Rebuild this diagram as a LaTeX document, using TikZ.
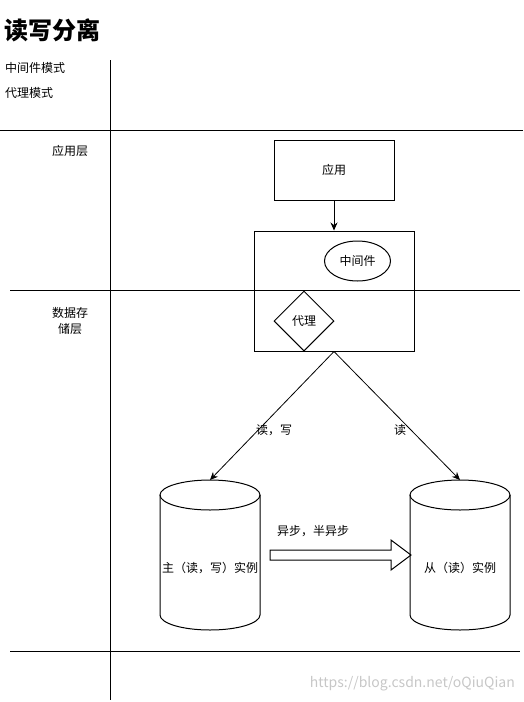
\documentclass[tikz,border=0pt]{standalone}
\usepackage{fontspec}
\setmainfont{Noto Sans CJK SC}
\usetikzlibrary{arrows.meta,shapes.geometric}
\begin{document}
\begin{tikzpicture}[x=1pt,y=-1pt,
  txt/.style={inner sep=0pt,font=\fontsize{12}{15}\selectfont},
  ln/.style={line width=1pt},
  arr/.style={line width=0.8pt,-{Stealth[length=8pt,width=7pt]}},
  cyl/.style={line width=1pt}]
\useasboundingbox (0,0) rectangle (523,702);
% title
\node[anchor=west,inner sep=0pt,font=\fontsize{24}{27}\selectfont\bfseries] (title) at (4,30) {读写分离};
% grid lines
\coordinate (v1) at (110,60); \coordinate (v2) at (110,700);
\coordinate (h1a) at (0,130); \coordinate (h1b) at (523,130);
\coordinate (h2a) at (10,290); \coordinate (h2b) at (520,290);
\coordinate (h3a) at (10,651); \coordinate (h3b) at (520,651);
\draw[ln] (v1) -- (v2);
\draw[ln] (h1a) -- (h1b);
\draw[ln] (h2a) -- (h2b);
\draw[ln] (h3a) -- (h3b);
% left labels
\node[txt,anchor=west] (mw) at (5,68) {中间件模式};
\node[txt,anchor=west] (px) at (5,93) {代理模式};
\node[txt] (applayer) at (70,151) {应用层};
\node[txt,align=center,font=\fontsize{12}{16}\selectfont] (datalayer) at (70,321) {数据存\\储层};
% boxes
\node[draw,line width=1pt,minimum width=120pt,minimum height=60pt,txt] (app) at (334,170) {应用};
\node[draw,line width=1pt,minimum width=160pt,minimum height=120pt,inner sep=0pt] (big) at (334,291) {};
\node[draw,line width=1pt,ellipse,minimum width=66pt,minimum height=40pt,txt] (mid) at (357.5,261) {中间件};
\node[draw,line width=1pt,diamond,minimum width=60pt,minimum height=60pt,txt] (proxy) at (304,321) {代理};
\draw[arr] (app.south) -- (big.north);
% cylinders
\draw[cyl,fill=white] (160,495) -- (160,615) arc[start angle=180,end angle=360,x radius=50pt,y radius=15pt] -- (260,495);
\draw[cyl] (210,495) ellipse[x radius=50pt,y radius=15pt];
\draw[cyl,fill=white] (410,495) -- (410,615) arc[start angle=180,end angle=360,x radius=50pt,y radius=15pt] -- (510,495);
\draw[cyl] (460,495) ellipse[x radius=50pt,y radius=15pt];
\node[txt] (master) at (210,568) {主（读，写）实例};
\node[txt] (slave) at (460,568) {从（读）实例};
\coordinate (mtop) at (210,480);
\coordinate (stop) at (460,480);
\draw[arr] (big.south) -- (mtop);
\draw[arr] (big.south) -- (stop);
\node[txt] (rw) at (274,430) {读，写};
\node[txt] (r) at (400,430) {读};
% block arrow
\draw[line width=1pt] (270,550) -- (391,550) -- (391,540) -- (411,555) -- (391,570) -- (391,560) -- (270,560) -- cycle;
\node[txt] (sync) at (313,531) {异步，半异步};
% watermark
\node[anchor=east,inner sep=0pt,text=black!22,font=\fontsize{14}{16}\selectfont] (wm) at (515,684) {https://blog.csdn.net/oQiuQian};
\end{tikzpicture}
\end{document}
